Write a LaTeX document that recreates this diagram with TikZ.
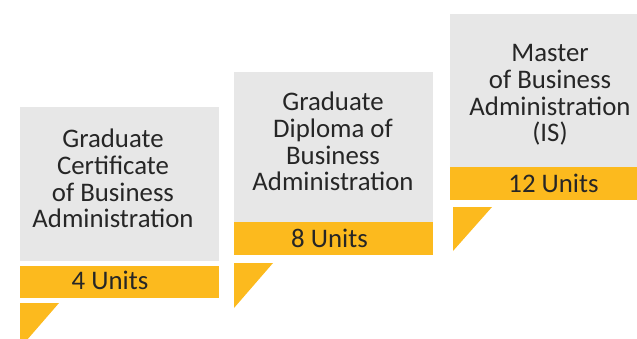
\documentclass[tikz,border=0pt]{standalone}
\usepackage{fontspec}
\setmainfont{Carlito}
\definecolor{boxgray}{HTML}{E7E7E7}
\definecolor{unitgold}{HTML}{FCBA1E}
\definecolor{txt}{HTML}{262626}
\begin{document}
\begin{tikzpicture}[x=1pt,y=1pt,
  graybox/.style={fill=boxgray,draw=none,inner sep=0pt,anchor=south west},
  bandbox/.style={fill=unitgold,draw=none,inner sep=0pt,anchor=south west},
  label/.style={text=txt,align=center,inner sep=0pt,anchor=base,
    font=\fontsize{26.8}{26.7}\selectfont},
  tri/.style={fill=unitgold,draw=none}]
\useasboundingbox (0,0) rectangle (637,338);
\clip (0,0) rectangle (637,338);
% box 1
\node[graybox,minimum width=199pt,minimum height=154pt] (g1) at (20,77) {};
\node[bandbox,minimum width=199pt,minimum height=32pt] (b1) at (20,40) {};
\fill[tri] (20,35) -- (59,35) -- (20,-10) -- cycle;
\node[label] (t1) at (113,110.3) {Graduate\\Certificate\\of Business\\Administration};
\node[label] (u1) at (110,49) {4 Units};
% box 2
\node[graybox,minimum width=199pt,minimum height=150pt] (g2) at (234,116) {};
\node[bandbox,minimum width=199pt,minimum height=33pt] (b2) at (234,83) {};
\fill[tri] (234,75) -- (273,75) -- (234,30) -- cycle;
\node[label] (t2) at (333,147.3) {Graduate\\Diploma of\\Business\\Administration};
\node[label] (u2) at (329.5,90.3) {8 Units};
% box 3
\node[graybox,minimum width=200pt,minimum height=153pt] (g3) at (450,171) {};
\node[bandbox,minimum width=200pt,minimum height=33pt] (b3) at (450,138) {};
\fill[tri] (453,131) -- (492,131) -- (453,87) -- cycle;
\node[label] (t3) at (550,196.3) {Master\\of Business\\Administration\\(IS)};
\node[label] (u3) at (553.5,145.3) {12 Units};
\end{tikzpicture}
\end{document}
